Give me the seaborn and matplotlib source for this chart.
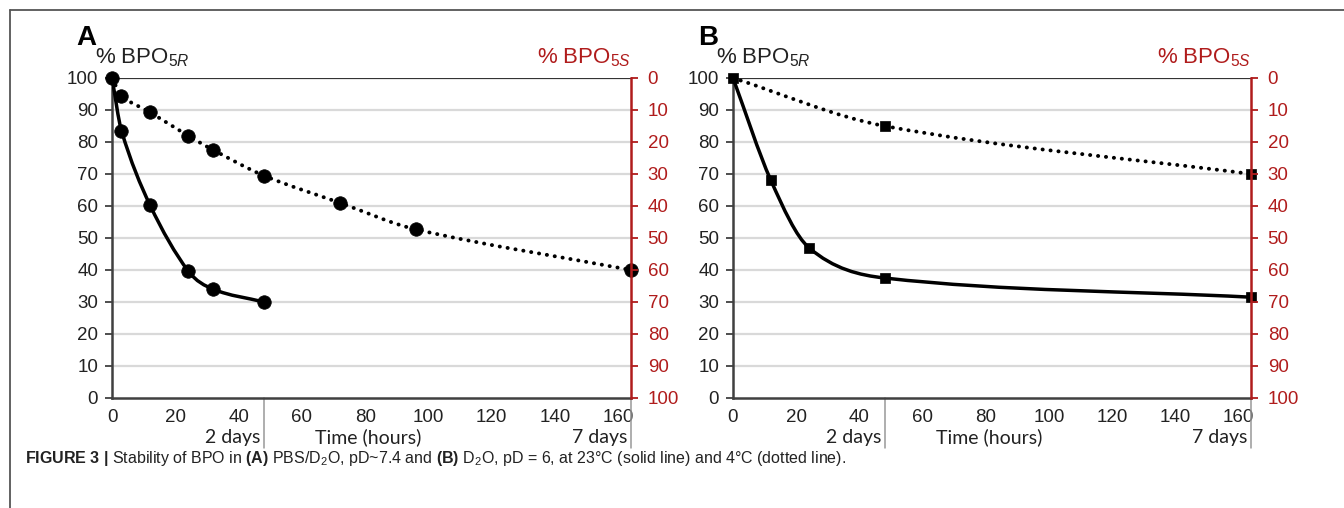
import numpy as np
import pandas as pd
import matplotlib
matplotlib.use("Agg")
import matplotlib.pyplot as plt
import matplotlib.transforms as mtransforms
from matplotlib.path import Path
from matplotlib.patches import PathPatch
from matplotlib.lines import Line2D
import seaborn as sns

# --- data ---
a_warm_t = [0, 3, 12, 24, 32, 48]
a_warm_v = [100, 83.5, 60.3, 39.8, 34.0, 30.0]
a_cold_t = [0, 3, 12, 24, 32, 48, 72, 96, 164]
a_cold_v = [100, 94.5, 89.3, 82.0, 77.5, 69.5, 61.0, 52.7, 40.0]

b_warm_t = [0, 12, 24, 48, 164]
b_warm_v = [100, 68.0, 47.0, 37.5, 31.5]
b_cold_t = [0, 48, 164]
b_cold_v = [100, 85.0, 70.0]

x_ticks = [0, 20, 40, 60, 80, 100, 120, 140, 160]
y_ticks = [0, 10, 20, 30, 40, 50, 60, 70, 80, 90, 100]
day_marks = [(48, "2 days"), (164, "7 days")]
XMAX = 164

RED = "#b01c1c"
FONT = ["Liberation Sans", "DejaVu Sans"]
NARROW = ["Lato", "Liberation Sans", "DejaVu Sans"]

sns.set_style("white")
plt.rcParams["font.family"] = FONT
plt.rcParams["mathtext.fontset"] = "custom"
plt.rcParams["mathtext.rm"] = "Liberation Sans"
plt.rcParams["mathtext.it"] = "Liberation Sans:italic"
plt.rcParams["mathtext.bf"] = "Liberation Sans:bold"


def smooth_path(xs, ys):
    # smoothed line: cubic Hermite segments (finite-difference slopes) as Beziers
    x = np.asarray(xs, float)
    y = np.asarray(ys, float)
    n = len(x)
    m = np.empty(n)
    m[0] = (y[1] - y[0]) / (x[1] - x[0])
    m[-1] = (y[-1] - y[-2]) / (x[-1] - x[-2])
    for i in range(1, n - 1):
        m[i] = (y[i + 1] - y[i - 1]) / (x[i + 1] - x[i - 1])
    verts = [(x[0], y[0])]
    codes = [Path.MOVETO]
    for i in range(n - 1):
        h = (x[i + 1] - x[i]) / 3.0
        verts += [(x[i] + h, y[i] + m[i] * h),
                  (x[i + 1] - h, y[i + 1] - m[i + 1] * h),
                  (x[i + 1], y[i + 1])]
        codes += [Path.CURVE4] * 3
    return Path(verts, codes)


def draw_panel(ax, letter, warm_t, warm_v, cold_t, cold_v, marker, msize):
    ax.set_xlim(0, XMAX)
    ax.set_ylim(0, 100)
    ax.set_xticks(x_ticks)
    ax.set_yticks(y_ticks)
    for y in y_ticks[1:-1]:
        ax.axhline(y, color="#d9d9d9", lw=1.6, zorder=0)
    ax.axhline(100, color="#333333", lw=1.6, zorder=1)

    ax.add_patch(PathPatch(smooth_path(cold_t, cold_v), fill=False, color="black",
                           lw=2.8, ls=(0, (0.05, 2.0)), capstyle="round", zorder=2))
    ax.add_patch(PathPatch(smooth_path(warm_t, warm_v), fill=False, color="black",
                           lw=2.5, zorder=3))

    pts = pd.DataFrame({"t": warm_t + cold_t[1:], "v": warm_v + cold_v[1:]})
    sns.scatterplot(data=pts, x="t", y="v", marker=marker, s=msize, color="black",
                    edgecolor="black", linewidth=0.5, ax=ax, zorder=4, clip_on=False)
    ax.set_xlabel("")
    ax.set_ylabel("")

    for side in ["top", "right"]:
        ax.spines[side].set_visible(False)
    ax.spines["left"].set_color("#404040")
    ax.spines["left"].set_linewidth(1.8)
    ax.spines["bottom"].set_color("#404040")
    ax.spines["bottom"].set_linewidth(1.8)
    ax.tick_params(axis="both", direction="out", length=5, width=1.3, color="#404040",
                   labelsize=13.5, labelcolor="#222222")
    ax.tick_params(axis="x", pad=3)
    ax.tick_params(axis="y", pad=5)

    # right axis (inverted, red)
    ax2 = ax.twinx()
    ax2.set_ylim(100, 0)
    ax2.set_yticks(y_ticks)
    for side in ["top", "left", "bottom"]:
        ax2.spines[side].set_visible(False)
    ax2.spines["right"].set_color(RED)
    ax2.spines["right"].set_linewidth(1.8)
    ax2.tick_params(axis="y", direction="out", length=5, width=1.3, color=RED,
                    labelsize=13.5, labelcolor=RED, pad=7)
    ax2.grid(False)

    # axis titles
    ax.text(-0.033, 1.063, r"% BPO$_{5\mathit{R}}$", transform=ax.transAxes,
            ha="left", va="center", fontsize=16, color="#222222")
    ax.text(1.0, 1.063, r"% BPO$_{5\mathit{S}}$", transform=ax.transAxes,
            ha="right", va="center", fontsize=16, color=RED)
    ax.text(-0.068, 1.125, letter, transform=ax.transAxes, ha="left", va="center",
            fontsize=20, fontweight="bold", color="black")

    # day markers under the time axis
    trans = mtransforms.blended_transform_factory(ax.transData, ax.transAxes)
    for x, lab in day_marks:
        ax.plot([x, x], [0, -0.155], transform=trans, color="#999999", lw=1.1,
                clip_on=False)
        ax.text(x - 1.0, -0.122, lab, transform=trans, ha="right", va="center",
                fontsize=14, family=NARROW, color="#222222")
    ax.text(81, -0.122, "Time (hours)", transform=trans, ha="center", va="center",
            fontsize=14, family=NARROW, color="#222222")


fig = plt.figure(figsize=(13.44, 5.08), dpi=100)
ax_a = fig.add_axes([112 / 1344, 1 - 398 / 508, 519 / 1344, 320 / 508])
ax_b = fig.add_axes([733 / 1344, 1 - 398 / 508, 518 / 1344, 320 / 508])

draw_panel(ax_a, "A", a_warm_t, a_warm_v, a_cold_t, a_cold_v, "o", 95)
draw_panel(ax_b, "B", b_warm_t, b_warm_v, b_cold_t, b_cold_v, "s", 55)

# figure frame (top and left rule)
fig.add_artist(Line2D([10 / 1344, 1.0], [1 - 10 / 508, 1 - 10 / 508],
                      transform=fig.transFigure, color="#555555", lw=1.3))
fig.add_artist(Line2D([10 / 1344, 10 / 1344], [0.0, 1 - 10 / 508],
                      transform=fig.transFigure, color="#555555", lw=1.3))

caption = (r"$\bf{FIGURE\ 3\ |}$ Stability of BPO in $\bf{(A)}$ PBS/D$_2$O, pD~7.4 and "
           r"$\bf{(B)}$ D$_2$O, pD = 6, at 23°C (solid line) and 4°C (dotted line).")
fig.text(25 / 1344, 1 - 458 / 508, caption, ha="left", va="center", fontsize=11.5,
         color="#222222")

fig.savefig("out.png", dpi=100)
